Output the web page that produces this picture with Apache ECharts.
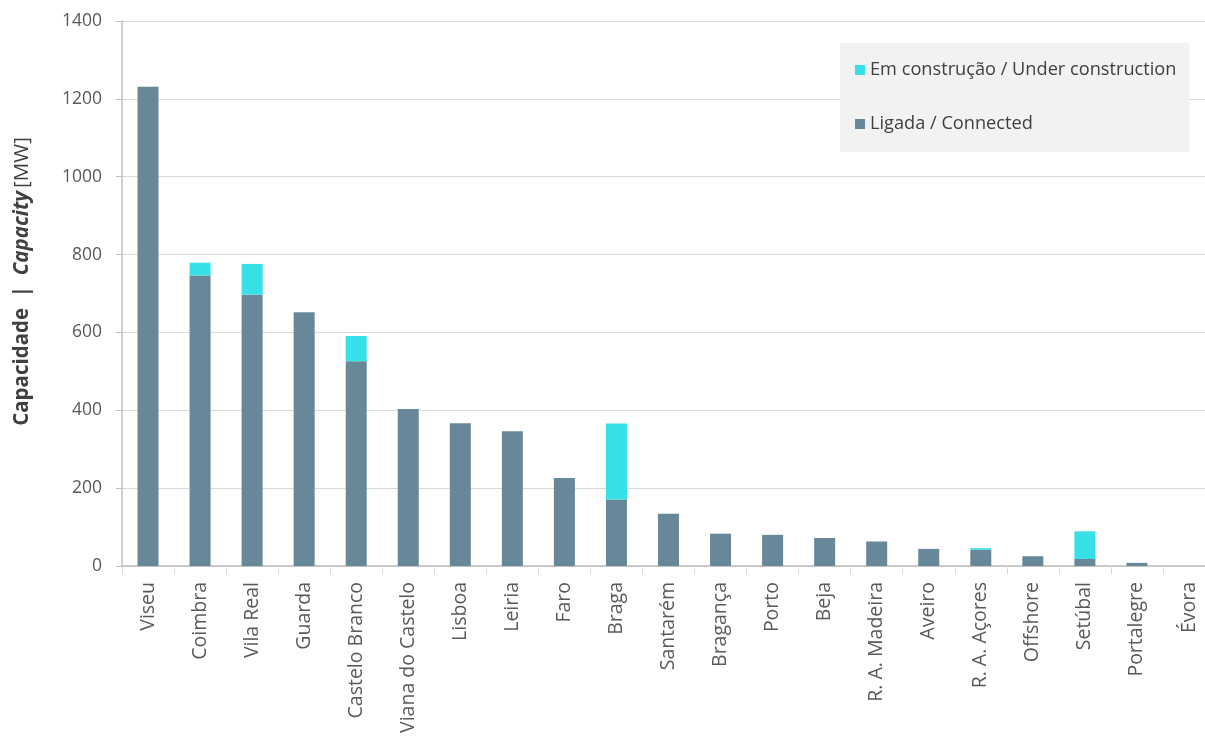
<!DOCTYPE html>
<html>
<head>
<meta charset="utf-8">
<script src="https://cdn.jsdelivr.net/npm/echarts@6/dist/echarts.min.js"></script>
<style>html,body{margin:0;padding:0;background:#fff}#c{width:1205px;height:745px}</style>
</head>
<body>
<div id="c"></div>
<script>
const categories = ["Viseu","Coimbra","Vila Real","Guarda","Castelo Branco","Viana do Castelo","Lisboa","Leiria","Faro","Braga","Santarém","Bragança","Porto","Beja","R. A. Madeira","Aveiro","R. A. Açores","Offshore","Setúbal","Portalegre","Évora"];
const connected = [1231, 746, 697, 652, 526, 403, 367, 346, 226, 171, 134, 83, 80, 72, 63, 44, 42, 25, 18, 8, 0];
const construction = [0, 33, 79, 0, 65, 0, 0, 0, 0, 195, 0, 0, 0, 0, 0, 0, 4, 0, 71, 0, 0];
const yTicks = [0, 200, 400, 600, 800, 1000, 1200, 1400];

const chart = echarts.init(document.getElementById('c'));
const font = '"Open Sans", "Noto Sans", sans-serif';
chart.setOption({
  animation: false,
  textStyle: { fontFamily: font },
  grid: { left: 122, width: 1093, top: 21, bottom: 179, containLabel: false, outerBoundsMode: 'none' },
  legend: {
    orient: 'vertical',
    left: 840, top: 43,
    backgroundColor: '#f2f2f2',
    padding: [17, 13, 18, 15],
    itemWidth: 10, itemHeight: 10, itemGap: 34,
    icon: 'rect',
    textStyle: { fontFamily: font, fontSize: 18.2, color: '#404040', lineHeight: 20 },
    data: ['Em construção / Under construction', 'Ligada / Connected']
  },
  xAxis: {
    type: 'category',
    data: categories,
    axisLine: { lineStyle: { color: '#bfbfbf', width: 1.5 } },
    axisTick: { show: true, length: 8, lineStyle: { color: '#d9d9d9' } },
    axisLabel: { rotate: 90, fontSize: 19.5, color: '#595959', margin: 16, interval: 0, fontFamily: font }
  },
  yAxis: {
    type: 'value', min: yTicks[0], max: yTicks[yTicks.length - 1], interval: 200,
    axisLine: { show: true, lineStyle: { color: '#bfbfbf', width: 1.5 } },
    axisTick: { show: true, length: 6, lineStyle: { color: '#bfbfbf' } },
    splitLine: { lineStyle: { color: '#d9d9d9', width: 1.2 } },
    axisLabel: { fontSize: 17.5, color: '#595959', margin: 20, fontFamily: font, formatter: v => String(v) },
    name: '{b|Capacidade  |  }{bi|Capacity} {n|[MW]}',
    nameLocation: 'middle', nameRotate: 90, nameGap: 89,
    nameTextStyle: {
      padding: [0, 0, 0, 24],
      rich: {
        b: { fontWeight: 'bold', fontSize: 20.5, color: '#404040', fontFamily: font },
        bi: { fontWeight: 'bold', fontStyle: 'italic', fontSize: 20.5, color: '#404040', fontFamily: font },
        n: { fontSize: 20.5, color: '#404040', fontFamily: font }
      }
    }
  },
  series: [
    { name: 'Ligada / Connected', type: 'bar', stack: 'cap', data: connected, barWidth: 21,
      itemStyle: { color: '#678899' } },
    { name: 'Em construção / Under construction', type: 'bar', stack: 'cap', data: construction, barWidth: 21,
      itemStyle: { color: '#37dfe6' } }
  ]
});
</script>
</body>
</html>
